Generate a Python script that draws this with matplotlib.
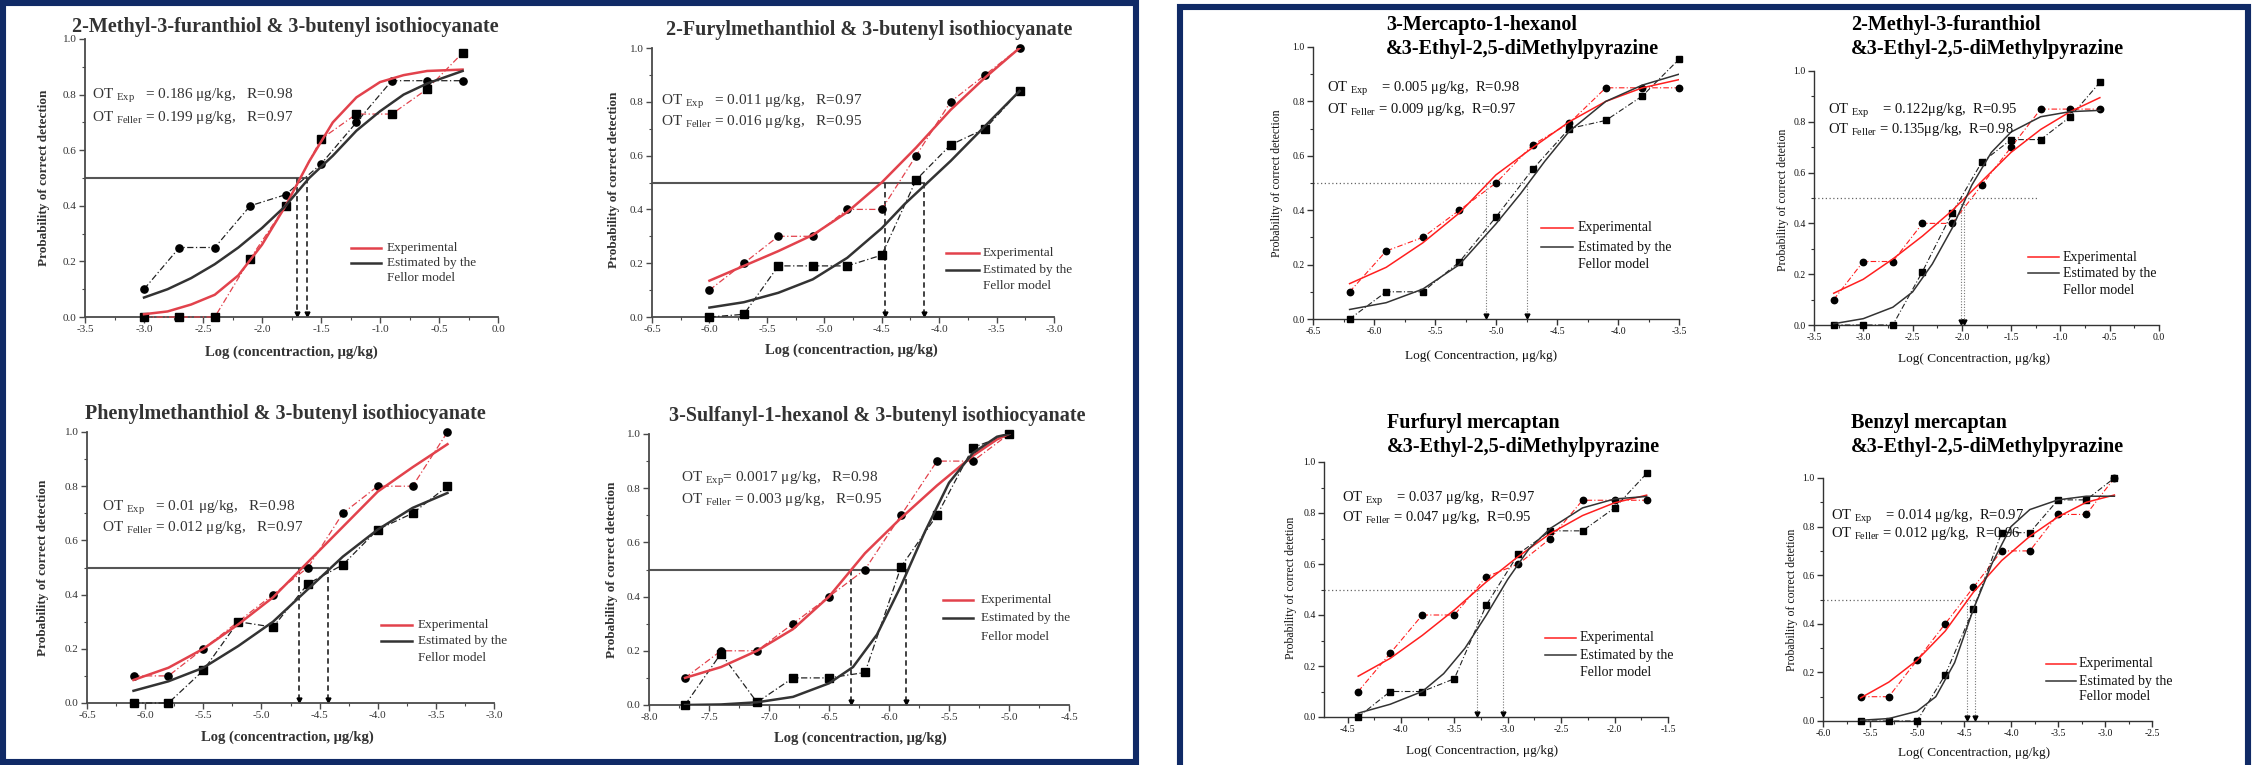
import numpy as np
import matplotlib
matplotlib.use("Agg")
import matplotlib.pyplot as plt
from matplotlib.patches import Rectangle
from matplotlib.lines import Line2D
from matplotlib.ticker import MultipleLocator, FormatStrFormatter

plt.rcParams['font.family'] = ['Liberation Serif', 'DejaVu Serif']
plt.rcParams['mathtext.fontset'] = 'custom'
plt.rcParams['mathtext.rm'] = 'Liberation Serif'
plt.rcParams['mathtext.it'] = 'Liberation Serif:italic'
plt.rcParams['mathtext.bf'] = 'Liberation Serif:bold'
plt.rcParams['axes.unicode_minus'] = False

W, H = 2254, 765
NAVY = '#102a66'

# ---------------- 3-butenyl isothiocyanate mixtures ----------------
# 2-Methyl-3-furanthiol
mft_x = [-3.0, -2.7, -2.4, -2.1, -1.8, -1.5, -1.2, -0.9, -0.6, -0.3]
mft_exp = [0.0, 0.0, 0.0, 0.21, 0.40, 0.64, 0.73, 0.73, 0.82, 0.95]
mft_fel = [0.10, 0.25, 0.25, 0.40, 0.44, 0.55, 0.70, 0.85, 0.85, 0.85]
mft_fit_x = [-3.0, -2.8, -2.6, -2.4, -2.2, -2.0, -1.8, -1.6, -1.4, -1.2, -1.0, -0.8, -0.6, -0.3]
mft_fit_exp = [0.01, 0.02, 0.045, 0.08, 0.15, 0.26, 0.40, 0.56, 0.70, 0.79, 0.845, 0.87, 0.885, 0.89]
mft_fit_fel = [0.07, 0.10, 0.14, 0.19, 0.25, 0.32, 0.40, 0.50, 0.58, 0.67, 0.74, 0.80, 0.84, 0.885]
mft_ot = [-1.70, -1.62]

# 2-Furylmethanthiol
fmt_x = [-6.0, -5.7, -5.4, -5.1, -4.8, -4.5, -4.2, -3.9, -3.6, -3.3]
fmt_exp = [0.10, 0.20, 0.30, 0.30, 0.40, 0.40, 0.60, 0.80, 0.90, 1.00]
fmt_fel = [0.0, 0.01, 0.19, 0.19, 0.19, 0.23, 0.51, 0.64, 0.70, 0.84]
fmt_fit_exp_x = [-6.0, -5.7, -5.4, -5.1, -4.8, -4.5, -4.2, -3.9, -3.6, -3.3]
fmt_fit_exp = [0.135, 0.19, 0.245, 0.305, 0.39, 0.50, 0.63, 0.77, 0.89, 1.0]
fmt_fit_fel_x = [-6.0, -5.7, -5.4, -5.1, -4.8, -4.5, -4.3, -4.1, -3.9, -3.6, -3.3]
fmt_fit_fel = [0.035, 0.055, 0.09, 0.14, 0.22, 0.33, 0.42, 0.50, 0.58, 0.71, 0.84]
fmt_ot = [-4.47, -4.13]

# Phenylmethanthiol
pmt_x = [-6.1, -5.8, -5.5, -5.2, -4.9, -4.6, -4.3, -4.0, -3.7, -3.4]
pmt_exp = [0.10, 0.10, 0.20, 0.30, 0.40, 0.50, 0.70, 0.80, 0.80, 1.00]
pmt_fel = [0.0, 0.0, 0.12, 0.30, 0.28, 0.44, 0.51, 0.64, 0.70, 0.80]
pmt_fit_exp = [0.085, 0.13, 0.20, 0.29, 0.39, 0.52, 0.65, 0.78, 0.87, 0.955]
pmt_fit_fel = [0.045, 0.08, 0.13, 0.21, 0.30, 0.42, 0.54, 0.64, 0.72, 0.775]
pmt_ot = [-4.68, -4.43]

# 3-Sulfanyl-1-hexanol
sfh_x = [-7.7, -7.4, -7.1, -6.8, -6.5, -6.2, -5.9, -5.6, -5.3, -5.0]
sfh_exp = [0.10, 0.20, 0.20, 0.30, 0.40, 0.50, 0.70, 0.90, 0.90, 1.00]
sfh_fel = [0.0, 0.19, 0.01, 0.10, 0.10, 0.12, 0.51, 0.70, 0.95, 1.00]
sfh_fit_exp_x = [-7.7, -7.4, -7.1, -6.8, -6.5, -6.2, -5.9, -5.6, -5.3, -5.1, -5.0]
sfh_fit_exp = [0.10, 0.14, 0.20, 0.28, 0.40, 0.56, 0.69, 0.81, 0.92, 0.98, 1.0]
sfh_fit_fel_x = [-7.7, -7.4, -7.1, -6.8, -6.5, -6.3, -6.1, -5.9, -5.7, -5.5, -5.3, -5.1, -5.0]
sfh_fit_fel = [0.0, 0.002, 0.01, 0.03, 0.08, 0.14, 0.26, 0.44, 0.64, 0.82, 0.93, 0.99, 1.0]
sfh_ot = [-6.32, -5.86]

# ---------------- 3-Ethyl-2,5-dimethylpyrazine mixtures ----------------
# 3-Mercapto-1-hexanol
mch_x = [-6.2, -5.9, -5.6, -5.3, -5.0, -4.7, -4.4, -4.1, -3.8, -3.5]
mch_exp = [0.10, 0.25, 0.30, 0.40, 0.50, 0.64, 0.72, 0.85, 0.85, 0.85]
mch_fel = [0.0, 0.10, 0.10, 0.21, 0.375, 0.55, 0.70, 0.73, 0.82, 0.955]
mch_fit_exp = [0.13, 0.19, 0.28, 0.39, 0.53, 0.63, 0.725, 0.80, 0.85, 0.88]
mch_fit_fel_x = [-6.2, -5.9, -5.6, -5.3, -5.0, -4.8, -4.6, -4.4, -4.1, -3.8, -3.5]
mch_fit_fel = [0.035, 0.06, 0.11, 0.20, 0.35, 0.46, 0.58, 0.69, 0.80, 0.86, 0.90]
mch_ot = [-5.08, -4.75]

# 2-Methyl-3-furanthiol
mfp_x = [-3.3, -3.0, -2.7, -2.4, -2.1, -1.8, -1.5, -1.2, -0.9, -0.6]
mfp_exp = [0.10, 0.25, 0.25, 0.40, 0.40, 0.55, 0.70, 0.85, 0.85, 0.85]
mfp_fel = [0.0, 0.0, 0.0, 0.21, 0.44, 0.64, 0.73, 0.73, 0.82, 0.955]
mfp_fit_exp = [0.125, 0.18, 0.26, 0.35, 0.45, 0.565, 0.68, 0.77, 0.84, 0.895]
mfp_fit_fel_x = [-3.3, -3.0, -2.7, -2.5, -2.3, -2.1, -1.9, -1.7, -1.5, -1.2, -0.9, -0.6]
mfp_fit_fel = [0.005, 0.025, 0.07, 0.13, 0.24, 0.38, 0.55, 0.68, 0.76, 0.82, 0.84, 0.845]
mfp_ot = [-2.01, -1.98]

# Furfuryl mercaptan
ffm_x = [-4.4, -4.1, -3.8, -3.5, -3.2, -2.9, -2.6, -2.3, -2.0, -1.7]
ffm_exp = [0.10, 0.25, 0.40, 0.40, 0.55, 0.60, 0.70, 0.85, 0.85, 0.85]
ffm_fel = [0.0, 0.10, 0.10, 0.15, 0.44, 0.64, 0.73, 0.73, 0.82, 0.955]
ffm_fit_exp = [0.16, 0.23, 0.32, 0.42, 0.53, 0.63, 0.72, 0.79, 0.84, 0.87]
ffm_fit_fel_x = [-4.4, -4.1, -3.8, -3.6, -3.4, -3.2, -3.0, -2.8, -2.6, -2.3, -2.0, -1.7]
ffm_fit_fel = [0.015, 0.05, 0.10, 0.17, 0.27, 0.40, 0.54, 0.66, 0.74, 0.82, 0.855, 0.865]
ffm_ot = [-3.29, -3.04]

# Benzyl mercaptan
bzm_x = [-5.6, -5.3, -5.0, -4.7, -4.4, -4.1, -3.8, -3.5, -3.2, -2.9]
bzm_exp = [0.10, 0.10, 0.25, 0.40, 0.55, 0.70, 0.70, 0.85, 0.85, 1.00]
bzm_fel = [0.0, 0.0, 0.0, 0.19, 0.46, 0.775, 0.775, 0.91, 0.91, 1.00]
bzm_fit_exp = [0.095, 0.16, 0.25, 0.37, 0.53, 0.66, 0.76, 0.84, 0.90, 0.93]
bzm_fit_fel_x = [-5.6, -5.3, -5.0, -4.8, -4.6, -4.4, -4.2, -4.0, -3.8, -3.5, -3.2, -2.9]
bzm_fit_fel = [0.003, 0.01, 0.04, 0.10, 0.24, 0.46, 0.65, 0.80, 0.87, 0.91, 0.925, 0.925]
bzm_ot = [-4.47, -4.38]

SUB_E = r'$_{\mathrm{Exp}}$'
SUB_F = r'$_{\mathrm{Feller}}$'

panels = [
    dict(block='L', title='2-Methyl-3-furanthiol & 3-butenyl isothiocyanate', xlim=(-3.5, 0.0),
         x=mft_x, exp=mft_exp, fel=mft_fel, exp_m='s', fel_m='o',
         fx_exp=mft_fit_x, fy_exp=mft_fit_exp, fx_fel=mft_fit_x, fy_fel=mft_fit_fel,
         ot=mft_ot, hend=max(mft_ot),
         txt=['OT ' + SUB_E + '   = 0.186 μg/kg,   R=0.98', 'OT ' + SUB_F + ' = 0.199 μg/kg,   R=0.97'],
         box=(85, 39, 498, 317), tpos=(285, 27), xl=(291, 352), yl=(44, 178),
         otpos=(92, 96, 117), leg=(351, 381, 387, (248, 263, 278))),
    dict(block='L', title='2-Furylmethanthiol & 3-butenyl isothiocyanate', xlim=(-6.5, -3.0),
         x=fmt_x, exp=fmt_exp, fel=fmt_fel, exp_m='o', fel_m='s',
         fx_exp=fmt_fit_exp_x, fy_exp=fmt_fit_exp, fx_fel=fmt_fit_fel_x, fy_fel=fmt_fit_fel,
         ot=fmt_ot, hend=max(fmt_ot),
         txt=['OT ' + SUB_E + '   = 0.011 μg/kg,   R=0.97', 'OT ' + SUB_F + ' = 0.016 μg/kg,   R=0.95'],
         box=(652, 48, 1054, 317), tpos=(869, 30), xl=(851, 350), yl=(614, 180),
         otpos=(661, 102, 122), leg=(946, 979, 983, (253, 270, 286))),
    dict(block='L', title='Phenylmethanthiol & 3-butenyl isothiocyanate', xlim=(-6.5, -3.0),
         x=pmt_x, exp=pmt_exp, fel=pmt_fel, exp_m='o', fel_m='s',
         fx_exp=pmt_x, fy_exp=pmt_fit_exp, fx_fel=pmt_x, fy_fel=pmt_fit_fel,
         ot=pmt_ot, hend=max(pmt_ot),
         txt=['OT ' + SUB_E + '   = 0.01 μg/kg,   R=0.98', 'OT ' + SUB_F + ' = 0.012 μg/kg,   R=0.97'],
         box=(87, 432, 494, 703), tpos=(285, 414), xl=(287, 737), yl=(43, 568),
         otpos=(102, 508, 528), leg=(381, 412, 418, (625, 641, 658))),
    dict(block='L', title='3-Sulfanyl-1-hexanol & 3-butenyl isothiocyanate', xlim=(-8.0, -4.5),
         x=sfh_x, exp=sfh_exp, fel=sfh_fel, exp_m='o', fel_m='s',
         fx_exp=sfh_fit_exp_x, fy_exp=sfh_fit_exp, fx_fel=sfh_fit_fel_x, fy_fel=sfh_fit_fel,
         ot=sfh_ot, hend=max(sfh_ot),
         txt=['OT ' + SUB_E + '= 0.0017 μg/kg,   R=0.98', 'OT ' + SUB_F + ' = 0.003 μg/kg,   R=0.95'],
         box=(649, 434, 1069, 705), tpos=(877, 416), xl=(860, 738), yl=(612, 570),
         otpos=(681, 479, 499), leg=(943, 973, 981, (600, 618, 637))),
    dict(block='R', title=['3-Mercapto-1-hexanol', '&3-Ethyl-2,5-diMethylpyrazine'], xlim=(-6.5, -3.5),
         x=mch_x, exp=mch_exp, fel=mch_fel, exp_m='o', fel_m='s',
         fx_exp=mch_x, fy_exp=mch_fit_exp, fx_fel=mch_fit_fel_x, fy_fel=mch_fit_fel,
         ot=mch_ot, hend=max(mch_ot), ylabel='Probability of correct detection',
         txt=['OT ' + SUB_E + '    = 0.005 μg/kg,  R=0.98', 'OT ' + SUB_F + ' = 0.009 μg/kg,  R=0.97'],
         box=(1313, 47, 1679, 319), tpos=(1386, 25, 49), xl=(1481, 356), yl=(1277, 183),
         otpos=(1327, 89, 109), leg=(1541, 1573, 1578, (228, 247, 264))),
    dict(block='R', title=['2-Methyl-3-furanthiol', '&3-Ethyl-2,5-diMethylpyrazine'], xlim=(-3.5, 0.0),
         x=mfp_x, exp=mfp_exp, fel=mfp_fel, exp_m='o', fel_m='s',
         fx_exp=mfp_x, fy_exp=mfp_fit_exp, fx_fel=mfp_fit_fel_x, fy_fel=mfp_fit_fel,
         ot=mfp_ot, hend=-1.22, ylabel='Probability of correct detetion',
         txt=['OT ' + SUB_E + '    = 0.122μg/kg,  R=0.95', 'OT ' + SUB_F + ' = 0.135μg/kg,  R=0.98'],
         box=(1814, 71, 2159, 325), tpos=(1851, 25, 49), xl=(1974, 359), yl=(1783, 200),
         otpos=(1828, 111, 129), leg=(2028, 2059, 2063, (257, 273, 291))),
    dict(block='R', title=['Furfuryl mercaptan', '&3-Ethyl-2,5-diMethylpyrazine'], xlim=(-4.72, -1.5),
         x=ffm_x, exp=ffm_exp, fel=ffm_fel, exp_m='o', fel_m='s',
         fx_exp=ffm_x, fy_exp=ffm_fit_exp, fx_fel=ffm_fit_fel_x, fy_fel=ffm_fit_fel,
         ot=ffm_ot, hend=max(ffm_ot), ylabel='Probability of correct detetion',
         txt=['OT ' + SUB_E + '    = 0.037 μg/kg,  R=0.97', 'OT ' + SUB_F + ' = 0.047 μg/kg,  R=0.95'],
         box=(1324, 462, 1668, 717), tpos=(1387, 423, 447), xl=(1482, 751), yl=(1291, 588),
         otpos=(1342, 499, 518), leg=(1545, 1576, 1580, (638, 655, 672))),
    dict(block='R', title=['Benzyl mercaptan', '&3-Ethyl-2,5-diMethylpyrazine'], xlim=(-6.0, -2.5),
         x=bzm_x, exp=bzm_exp, fel=bzm_fel, exp_m='o', fel_m='s',
         fx_exp=bzm_x, fy_exp=bzm_fit_exp, fx_fel=bzm_fit_fel_x, fy_fel=bzm_fit_fel,
         ot=bzm_ot, hend=max(bzm_ot), ylabel='Probability of correct detetion',
         txt=['OT ' + SUB_E + '    = 0.014 μg/kg,  R=0.97', 'OT ' + SUB_F + ' = 0.012 μg/kg,  R=0.96'],
         box=(1823, 478, 2152, 721), tpos=(1851, 423, 447), xl=(1974, 753), yl=(1792, 600),
         otpos=(1831, 517, 534), leg=(2046, 2076, 2079, (664, 681, 697))),
]

styles = {
    'L': dict(red='#e2424c', axis='#4a4a4a', text='#333333', spine_lw=1.3, tick_fs=8,
              title_fs=14.5, xl_fs=10.5, yl_fs=9.5, ot_fs=11, leg_fs=9.5, bold=True,
              fit_lw=1.8, raw_lw=0.9, ms=5.2,
              hline=dict(color='#555555', lw=1.5, ls='-'),
              vline=dict(color='#333333', lw=1.3, ls=(0, (3, 2)))),
    'R': dict(red='#ff1f1f', axis='#333333', text='#111111', spine_lw=1.0, tick_fs=7,
              title_fs=14.5, xl_fs=9.5, yl_fs=8.5, ot_fs=10.5, leg_fs=10, bold=False,
              fit_lw=1.1, raw_lw=0.8, ms=4.6,
              hline=dict(color='#666666', lw=0.9, ls=(0, (1, 2))),
              vline=dict(color='#777777', lw=0.8, ls=(0, (1, 1.5)))),
}


def ftext(fig, x, y, s, **kw):
    return fig.text(x / W, 1 - y / H, s, **kw)


def draw(fig, p):
    st = styles[p['block']]
    left, top, right, bottom = p['box']
    ax = fig.add_axes([left / W, 1 - bottom / H, (right - left) / W, (bottom - top) / H])
    xlo, xhi = p['xlim']
    ax.set_xlim(xlo, xhi)
    ax.set_ylim(0, 1)
    for side in ('top', 'right'):
        ax.spines[side].set_visible(False)
    for side in ('left', 'bottom'):
        ax.spines[side].set_color(st['axis'])
        ax.spines[side].set_linewidth(st['spine_lw'])
    ax.xaxis.set_major_locator(MultipleLocator(0.5))
    ax.xaxis.set_minor_locator(MultipleLocator(0.25))
    ax.yaxis.set_major_locator(MultipleLocator(0.2))
    ax.yaxis.set_minor_locator(MultipleLocator(0.1))
    ax.xaxis.set_major_formatter(FormatStrFormatter('%.1f'))
    ax.yaxis.set_major_formatter(FormatStrFormatter('%.1f'))
    ax.tick_params(which='major', direction='out', length=4, width=1, color=st['axis'],
                   labelsize=st['tick_fs'], labelcolor=st['text'], pad=2)
    ax.tick_params(which='minor', direction='out', length=2, width=0.8, color=st['axis'])

    # 50 % detection level and threshold drop lines
    ax.plot([xlo, p['hend']], [0.5, 0.5], **st['hline'])
    for t in p['ot']:
        ax.plot([t, t], [0.5, 0.0], **st['vline'])
        ax.plot([t], [0.012], marker='v', color='black', ms=3.5, clip_on=False)

    dd = (0, (5, 2, 1, 2))
    ax.plot(p['x'], p['exp'], color=st['red'], ls=dd, lw=st['raw_lw'], marker=p['exp_m'],
            mfc='black', mec='black', ms=st['ms'], clip_on=False, zorder=3)
    ax.plot(p['x'], p['fel'], color='#222222', ls=dd, lw=st['raw_lw'], marker=p['fel_m'],
            mfc='black', mec='black', ms=st['ms'], clip_on=False, zorder=3)
    ax.plot(p['fx_exp'], p['fy_exp'], color=st['red'], lw=st['fit_lw'], zorder=4)
    ax.plot(p['fx_fel'], p['fy_fel'], color='#333333', lw=st['fit_lw'], zorder=4)

    weight = 'bold' if st['bold'] else 'normal'
    if p['block'] == 'L':
        ftext(fig, p['tpos'][0], p['tpos'][1], p['title'], ha='center', va='center',
              fontsize=st['title_fs'], fontweight='bold', color=st['text'])
        xlabel = 'Log (concentraction, μg/kg)'
        ylabel = 'Probability of correct detection'
    else:
        tx, ty1, ty2 = p['tpos']
        ftext(fig, tx, ty1, p['title'][0], ha='left', va='center',
              fontsize=st['title_fs'], fontweight='bold', color='black')
        ftext(fig, tx, ty2, p['title'][1], ha='left', va='center',
              fontsize=st['title_fs'], fontweight='bold', color='black')
        xlabel = 'Log( Concentraction, μg/kg)'
        ylabel = p['ylabel']
    ftext(fig, p['xl'][0], p['xl'][1], xlabel, ha='center', va='center',
          fontsize=st['xl_fs'], fontweight=weight, color=st['text'])
    ftext(fig, p['yl'][0], p['yl'][1], ylabel, ha='center', va='center', rotation=90,
          fontsize=st['yl_fs'], fontweight=weight, color=st['text'])

    ox, oy1, oy2 = p['otpos']
    ftext(fig, ox, oy1, p['txt'][0], ha='left', va='center', fontsize=st['ot_fs'], color=st['text'])
    ftext(fig, ox, oy2, p['txt'][1], ha='left', va='center', fontsize=st['ot_fs'], color=st['text'])

    # legend
    lx0, lx1, ltx, lys = p['leg']
    fig.add_artist(Line2D([lx0 / W, lx1 / W], [1 - lys[0] / H] * 2, color=st['red'], lw=st['fit_lw']))
    fig.add_artist(Line2D([lx0 / W, lx1 / W], [1 - lys[1] / H] * 2, color='#333333', lw=st['fit_lw']))
    for s, y in zip(['Experimental', 'Estimated by the', 'Fellor model'], lys):
        ftext(fig, ltx, y, s, ha='left', va='center', fontsize=st['leg_fs'], color=st['text'])


fig = plt.figure(figsize=(W / 100, H / 100), dpi=100)
fig.patch.set_facecolor('white')

# navy frames around the two figure blocks
fig.patches.append(Rectangle((3 / W, 3 / H), 1133 / W, 759 / H, transform=fig.transFigure,
                             fill=False, edgecolor=NAVY, linewidth=4.4))
fig.patches.append(Rectangle((1180 / W, -0.2), 1068 / W, 1.2 - 7 / H, transform=fig.transFigure,
                             fill=False, edgecolor=NAVY, linewidth=4.4))

for p in panels:
    draw(fig, p)

fig.savefig('out.png', dpi=100)
